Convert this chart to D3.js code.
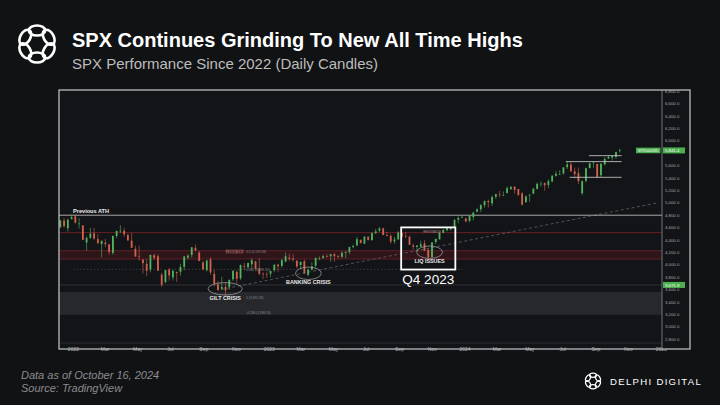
<!DOCTYPE html>
<html>
<head>
<meta charset="utf-8">
<script src="https://cdn.jsdelivr.net/npm/d3@7"></script>
<style>
  html, body { margin: 0; padding: 0; background: #111214; }
  svg { display: block; }
  text { font-family: "Liberation Sans", Arial, sans-serif; }
</style>
</head>
<body>
<svg id="chart" width="720" height="405"></svg>
<script>
// ---------------- DATA ----------------
const firstWeek = "2021-12-06";           // Monday of first weekly candle
const lastWeek  = "2024-10-14";           // Monday of last weekly candle
const open = [
  4603,4710,4587,4733,
  4778,4655,4632,4356,4432,4505,4412,4332,4354,4327,4188,4462,4541,4547,4474,4385,4255,4130,4081,4013,3920,4151,
  4134,3838,3715,3920,3793,3880,3883,3965,4113,4155,4270,4195,4034,3910,4083,3849,3682,3609,3640,3638,3762,3882,
  3780,3978,3956,4005,4053,3939,3853,3843,
  3853,3910,3999,3979,4049,4112,4096,4062,3993,4056,3835,3917,3983,4102,4110,4138,4134,4166,4136,4126,4190,4205,
  4282,4308,4397,4337,4450,4395,4508,4547,4584,4478,4464,4375,4406,4511,4460,4450,4310,4285,4290,4343,4238,4120,
  4364,4407,4511,4554,4569,4610,4725,4759,
  4745,4703,4766,4853,4892,4957,5027,4989,5094,5130,5111,5154,5219,5257,5218,5149,5005,5114,5143,5221,5305,5315,
  5283,5341,5432,5460,5471,5572,5615,5505,5476,5151,5353,5557,5637,5624,5442,5615,5711,5726,5737,5830
];
const high = [
  4713,4752,4740,4808,
  4818,4749,4632,4453,4595,4590,4490,4385,4416,4327,4465,4546,4637,4593,4500,4513,4308,4308,4090,4090,4158,4178,
  4168,3870,3913,3946,3918,3890,4013,4141,4167,4280,4325,4218,4062,4076,4119,3920,3736,3806,3712,3762,3905,3911,
  4001,4028,4034,4101,4060,4101,3875,3878,
  3906,4003,4015,4095,4195,4176,4166,4070,4048,4079,3937,4039,4110,4133,4164,4170,4170,4187,4154,4212,4212,4290,
  4322,4449,4408,4458,4456,4527,4578,4607,4595,4531,4490,4447,4541,4514,4527,4466,4339,4311,4385,4394,4259,4366,
  4418,4521,4568,4595,4610,4738,4778,4793,
  4755,4799,4842,4907,4975,5030,5048,5111,5140,5190,5180,5262,5264,5264,5222,5168,5113,5130,5240,5325,5342,5325,
  5375,5447,5505,5524,5570,5670,5667,5566,5566,5360,5563,5643,5651,5625,5636,5733,5767,5765,5822,5871
];
const low = [
  4593,4598,4531,4733,
  4662,4582,4395,4222,4414,4401,4327,4115,4279,4157,4162,4424,4507,4450,4381,4269,4124,4062,3858,3811,3875,4073,
  3900,3637,3705,3741,3743,3721,3819,3910,4079,4112,4219,4057,3906,3887,3837,3647,3584,3584,3491,3590,3734,3698,
  3750,3906,3940,3938,3918,3828,3765,3783,
  3795,3877,3886,3949,4038,4061,4048,3943,3929,3846,3809,3906,3951,4069,4091,4114,4049,4048,4098,4103,4103,4167,
  4262,4304,4341,4328,4385,4385,4491,4527,4474,4457,4336,4336,4404,4432,4430,4316,4238,4216,4283,4223,4104,4103,
  4329,4407,4511,4537,4546,4593,4667,4751,
  4682,4683,4714,4845,4845,4918,4920,4946,5058,5087,5105,5150,5202,5146,5107,4954,5001,5011,5142,5211,5257,5191,
  5234,5327,5420,5447,5448,5540,5497,5390,5302,5119,5325,5551,5561,5402,5407,5603,5703,5675,5707,5807
];
const close = [
  4712,4620,4725,4766,
  4677,4662,4398,4432,4500,4419,4349,4385,4329,4204,4463,4543,4546,4488,4392,4272,4132,4123,4024,3901,4158,4109,
  3901,3675,3912,3825,3899,3863,3962,4130,4145,4280,4228,4058,3924,4067,3873,3693,3586,3640,3583,3752,3901,3771,
  3993,3965,4026,4071,3934,3852,3845,3840,
  3895,3999,3973,4071,4136,4090,4079,3970,4045,3862,3917,3971,4109,4105,4137,4133,4169,4136,4124,4191,4205,4282,
  4299,4410,4348,4450,4399,4505,4536,4582,4478,4464,4370,4406,4516,4457,4450,4320,4288,4308,4327,4224,4117,4358,
  4415,4514,4559,4595,4604,4719,4754,4770,
  4697,4784,4840,4891,4959,5027,5006,5089,5137,5124,5117,5234,5254,5204,5123,4967,5100,5128,5223,5303,5305,5278,
  5347,5432,5465,5460,5567,5615,5505,5459,5347,5344,5554,5634,5648,5408,5626,5703,5738,5751,5815,5842
];
const priceTicks = [2800,3000,3200,3400,3600,3800,4000,4200,4400,4600,4800,5000,5200,5400,5600,5800,6000,6200,6400,6600,6800];
const monthNames = ["Jan","Feb","Mar","Apr","May","Jun","Jul","Aug","Sep","Oct","Nov","Dec"];
const timeTickStart = "2022-01-01", timeTickEnd = "2025-02-01";

// Levels / annotations (price values)
const previousATH = 4796.6;
const resistanceLine = [4506, 4526];
const redBand = [4090, 4224];
const greyBand = [3190, 3548];
const supportLevel = 3672;
const dottedLevel = 3924;
const recentLevels = [ {v:5757, from:"2024-08-20", to:"2024-10-20"},
                       {v:5661, from:"2024-07-08", to:"2024-10-20"},
                       {v:5408, from:"2024-07-15", to:"2024-10-20"} ];
const trendline = [ {d:"2022-10-05", v:3600}, {d:"2024-12-28", v:5000} ];
const crises = [
  {label:"GILT CRISIS",    d:"2022-10-12", v:3610, rxDays:32, rv:100, labelV:3430},
  {label:"BANKING CRISIS", d:"2023-03-16", v:3860, rxDays:24, rv:100, labelV:3680},
  {label:"LIQ ISSUES",     d:"2023-10-28", v:4200, rxDays:24, rv:100, labelV:4025}
];
const q4Box = {from:"2023-09-05", to:"2023-12-15", top:4600, bottom:3920, label:"Q4 2023"};
const fibLabels = [
  {d:"2022-11-20", v:4195, t:"0.5 (4,193.58)"},
  {d:"2022-11-20", v:3895, t:"0.382 (3,895.12)"},
  {d:"2022-11-20", v:3450, t:"0 (3,491.58)"},
  {d:"2022-11-20", v:3200, t:"-0.236 (3,188.20)"}
];
const lastPrice = {v:5841.4, text:"5,841.4", sym:"SPX500USD"};
const supportLabel = "3,671.9";

// ---------------- LAYOUT ----------------
const svg = d3.select("#chart");
const frame = {x0:59, x1:690, y0:90, y1:349};
const plot = {x0:59, x1:662, y0:90, y1:343};
const parse = d3.utcParse("%Y-%m-%d");

const x = d3.scaleUtc()
  .domain([parse("2022-01-03"), parse("2024-01-02")])
  .range([74, 465]);
const y = d3.scaleLinear().domain([2800, 6800]).range([339, 91]);

svg.append("rect").attr("width",720).attr("height",405).attr("fill","#111214");

// ---- header ----
function logo(g, cx, cy, s, sw) {
  const grp = g.append("g").attr("transform",`translate(${cx},${cy}) scale(${s})`);
  for (let i = 0; i < 6; i++) {
    const a = i * 60;
    grp.append("ellipse")
      .attr("cx", 0).attr("cy", -13.5)
      .attr("rx", 8.2).attr("ry", 5)
      .attr("transform", `rotate(${a})`)
      .attr("fill","none").attr("stroke","#ffffff").attr("stroke-width", sw);
  }
}
logo(svg, 37, 44, 1, 2.6);

svg.append("text").attr("x",72).attr("y",47)
  .attr("font-size",20).attr("font-weight","bold").attr("fill","#ffffff")
  .text("SPX Continues Grinding To New All Time Highs");
svg.append("text").attr("x",72).attr("y",69)
  .attr("font-size",15).attr("fill","#bdbdbd")
  .text("SPX Performance Since 2022 (Daily Candles)");

// ---- chart frame ----
svg.append("rect").attr("x",frame.x0).attr("y",frame.y0)
  .attr("width",frame.x1-frame.x0).attr("height",frame.y1-frame.y0)
  .attr("fill","#131417");

svg.append("clipPath").attr("id","clip").append("rect")
  .attr("x",plot.x0).attr("y",plot.y0).attr("width",plot.x1-plot.x0).attr("height",plot.y1-plot.y0);
const g = svg.append("g").attr("clip-path","url(#clip)");

// zones
g.append("rect").attr("x",plot.x0).attr("width",plot.x1-plot.x0)
  .attr("y",y(greyBand[1])).attr("height",y(greyBand[0])-y(greyBand[1]))
  .attr("fill","#27282c");
g.append("line").attr("x1",plot.x0).attr("x2",plot.x1)
  .attr("y1",y(greyBand[1])).attr("y2",y(greyBand[1])).attr("stroke","#34353a").attr("stroke-width",0.6);

g.append("rect").attr("x",plot.x0).attr("width",plot.x1-plot.x0)
  .attr("y",y(redBand[1])).attr("height",y(redBand[0])-y(redBand[1]))
  .attr("fill","#2e1519");
[redBand[0], redBand[1]].forEach(v => g.append("line").attr("x1",plot.x0).attr("x2",plot.x1)
  .attr("y1",y(v)).attr("y2",y(v)).attr("stroke","#6e2229").attr("stroke-width",0.8));
g.append("rect").attr("x",plot.x0).attr("width",plot.x1-plot.x0)
  .attr("y",y(resistanceLine[1])).attr("height",y(resistanceLine[0])-y(resistanceLine[1]))
  .attr("fill","#3a161b");
g.append("line").attr("x1",plot.x0).attr("x2",plot.x1)
  .attr("y1",y((resistanceLine[0]+resistanceLine[1])/2)).attr("y2",y((resistanceLine[0]+resistanceLine[1])/2))
  .attr("stroke","#6a1f26").attr("stroke-width",0.8);

// support & dotted levels
g.append("line").attr("x1",plot.x0).attr("x2",plot.x1)
  .attr("y1",y(supportLevel)).attr("y2",y(supportLevel)).attr("stroke","#3c3d42").attr("stroke-width",0.7);
g.append("line").attr("x1",x(parse("2022-01-01"))).attr("x2",x(parse("2023-12-31")))
  .attr("y1",y(dottedLevel)).attr("y2",y(dottedLevel))
  .attr("stroke","#55565b").attr("stroke-width",0.6).attr("stroke-dasharray","1.5,2");

// trendline
g.append("line")
  .attr("x1",x(parse(trendline[0].d))).attr("y1",y(trendline[0].v))
  .attr("x2",x(parse(trendline[1].d))).attr("y2",y(trendline[1].v))
  .attr("stroke","#6a6b70").attr("stroke-width",0.7).attr("stroke-dasharray","3,2.5");

// previous ATH
g.append("line").attr("x1",plot.x0).attr("x2",plot.x1)
  .attr("y1",y(previousATH)).attr("y2",y(previousATH)).attr("stroke","#b9b9bb").attr("stroke-width",0.9);
svg.append("text").attr("x",73).attr("y",y(previousATH)-2.5)
  .attr("font-size",5.6).attr("font-weight","bold").attr("fill","#f0f0f0").text("Previous ATH");

// fib labels
fibLabels.forEach(f => svg.append("text").attr("x",x(parse(f.d))).attr("y",y(f.v))
  .attr("font-size",3.2).attr("fill","#8a8a8e").text(f.t));
svg.append("rect").attr("x",226).attr("y",249.5).attr("width",17).attr("height",4)
  .attr("fill","none").attr("stroke","#8a3a40").attr("stroke-width",0.4);
svg.append("text").attr("x",234.5).attr("y",252.6).attr("text-anchor","middle")
  .attr("font-size",2.8).attr("fill","#b88").text("RESISTANCE");

// candles
const weeks = d3.utcMonday.range(parse(firstWeek), d3.utcDay.offset(parse(lastWeek), 1));
const candles = weeks.map((d,i) => ({d, o:open[i], h:high[i], l:low[i], c:close[i]}));
const up = "#52b35e", down = "#d2624e";
const cg = g.append("g");
cg.selectAll("line.wick").data(candles).join("line")
  .attr("class","wick")
  .attr("x1", d => x(d3.utcHour.offset(d.d, 60)))
  .attr("x2", d => x(d3.utcHour.offset(d.d, 60)))
  .attr("y1", d => y(d.h)).attr("y2", d => y(d.l))
  .attr("stroke", d => d.c >= d.o ? up : down).attr("stroke-width",0.6);
cg.selectAll("rect.body").data(candles).join("rect")
  .attr("class","body")
  .attr("x", d => x(d3.utcHour.offset(d.d, 60)) - 0.9)
  .attr("width", 1.8)
  .attr("y", d => y(Math.max(d.o,d.c)))
  .attr("height", d => Math.max(0.6, Math.abs(y(d.o)-y(d.c))))
  .attr("fill", d => d.c >= d.o ? up : down);

// recent levels
recentLevels.forEach(r => g.append("line")
  .attr("x1",x(parse(r.from))).attr("x2",x(parse(r.to)))
  .attr("y1",y(r.v)).attr("y2",y(r.v)).attr("stroke","#bdbdbf").attr("stroke-width",0.9));

// crisis ellipses
crises.forEach(c => {
  const cx = x(parse(c.d));
  const rx = x(d3.utcDay.offset(parse(c.d), c.rxDays)) - cx;
  const ry = y(c.v - c.rv) - y(c.v);
  svg.append("ellipse").attr("cx",cx).attr("cy",y(c.v)).attr("rx",rx).attr("ry",ry)
    .attr("fill","none").attr("stroke","#a9a9ad").attr("stroke-width",0.7);
  svg.append("text").attr("x",cx).attr("y",y(c.labelV)).attr("text-anchor","middle")
    .attr("font-size",5.4).attr("font-weight","bold").attr("fill","#e8e8e8").text(c.label);
});

// Q4 box
const bx0 = x(parse(q4Box.from)), bx1 = x(parse(q4Box.to));
svg.append("rect").attr("x",bx0).attr("y",y(q4Box.top))
  .attr("width",bx1-bx0).attr("height",y(q4Box.bottom)-y(q4Box.top))
  .attr("fill","none").attr("stroke","#ffffff").attr("stroke-width",1.8);
svg.append("text").attr("x",(bx0+bx1)/2).attr("y",y(q4Box.bottom)+14)
  .attr("text-anchor","middle").attr("font-size",13.5).attr("fill","#ffffff").text(q4Box.label);
svg.append("text").attr("x",432).attr("y",y(4515)+0.8).attr("text-anchor","middle")
  .attr("font-size",2.8).attr("fill","#b88").text("RESISTANCE");

// ---- time axis ----
const months = d3.utcMonth.every(2).range(parse(timeTickStart), parse(timeTickEnd));
const xAxis = d3.axisBottom(x).tickValues(months).tickSize(0)
  .tickFormat(d => d.getUTCMonth() === 0 ? d.getUTCFullYear() : monthNames[d.getUTCMonth()]);
const xa = svg.append("g").attr("transform",`translate(0,${plot.y1 + 1.5})`).call(xAxis);
xa.select(".domain").remove();
xa.selectAll("text").attr("font-size",5).attr("fill","#a8a8ac").attr("font-family","Liberation Sans, Arial, sans-serif");
svg.append("line").attr("x1",plot.x0).attr("x2",plot.x1).attr("y1",plot.y1).attr("y2",plot.y1)
  .attr("stroke","#3a3b40").attr("stroke-width",0.6);

// ---- price axis ----
svg.append("rect").attr("x",plot.x1).attr("y",frame.y0).attr("width",frame.x1-plot.x1).attr("height",frame.y1-frame.y0)
  .attr("fill","#131417");
const yAxis = d3.axisRight(y).tickValues(priceTicks.filter(v => Math.abs(v - lastPrice.v) > 80))
  .tickSize(0).tickFormat(d3.format(",.1f"));
const ya = svg.append("g").attr("transform",`translate(${plot.x1+3},0)`).call(yAxis);
ya.select(".domain").remove();
ya.selectAll("text").attr("font-size",4.3).attr("fill","#a8a8ac").attr("x",0).attr("font-family","Liberation Sans, Arial, sans-serif");
svg.append("line").attr("x1",plot.x1).attr("x2",plot.x1).attr("y1",frame.y0).attr("y2",frame.y1)
  .attr("stroke","#8a8b90").attr("stroke-width",0.8);

// price labels
function priceTag(v, txt) {
  svg.append("rect").attr("x",plot.x1+1).attr("y",y(v)-3).attr("width",22).attr("height",6)
    .attr("fill","#4caf50");
  svg.append("text").attr("x",plot.x1+3).attr("y",y(v)+1.6).attr("font-size",4.3).attr("fill","#ffffff").text(txt);
}
priceTag(lastPrice.v, lastPrice.text);
svg.append("rect").attr("x",636).attr("y",y(lastPrice.v)-2.8).attr("width",24.5).attr("height",5.6)
  .attr("fill","#4caf50");
svg.append("text").attr("x",648.2).attr("y",y(lastPrice.v)+1.4).attr("text-anchor","middle")
  .attr("font-size",3.6).attr("fill","#ffffff").text(lastPrice.sym);
priceTag(supportLevel, supportLabel);

// frame border
svg.append("rect").attr("x",frame.x0).attr("y",frame.y0)
  .attr("width",frame.x1-frame.x0).attr("height",frame.y1-frame.y0)
  .attr("fill","none").attr("stroke","#c9c9cb").attr("stroke-width",1.2);

// ---- footer ----
svg.append("text").attr("x",21).attr("y",379).attr("font-size",11).attr("font-style","italic")
  .attr("fill","#8c8c90").text("Data as of October 16, 2024");
svg.append("text").attr("x",21).attr("y",392).attr("font-size",11).attr("font-style","italic")
  .attr("fill","#8c8c90").text("Source: TradingView");
logo(svg, 593, 381, 0.42, 3);
svg.append("text").attr("x",610).attr("y",385).attr("font-size",9.6).attr("letter-spacing",1.3)
  .attr("fill","#ffffff").text("DELPHI DIGITAL");
</script>
</body>
</html>
